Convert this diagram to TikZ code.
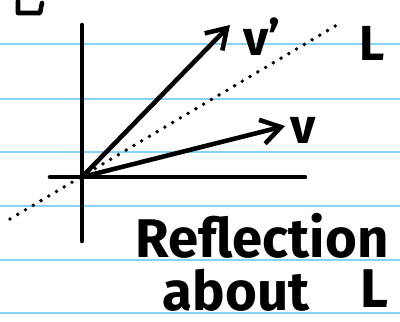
\documentclass[tikz,border=0pt]{standalone}
\usepackage{fontspec}
\setmainfont{Fira Sans}
\usetikzlibrary{arrows.meta}
\definecolor{ink}{HTML}{000000}
\definecolor{ruleblue}{HTML}{86D3F7}

\begin{document}
\begin{tikzpicture}[x=0.01cm,y=-0.01cm,
    pen/.style={ink,line width=1.3pt,line cap=round,line join=round},
    vec/.style={pen,-{Straight Barb[length=5.5pt,width=7pt,line width=1.3pt]}},
    hand/.style={ink,font=\fontsize{14}{16}\selectfont\bfseries,inner sep=0pt},
    caption/.style={hand,anchor=base,font=\fontsize{15.5}{17}\selectfont\bfseries}]
  \useasboundingbox (0,0) rectangle (400,322);
  % ruled paper
  \foreach \y in {44,99,152,206,260,313}
    \draw[ruleblue,line width=0.5pt] (0,\y) -- (400,\y);
  % leftover stroke from the line above
  \draw[pen] (18,1) -- (18,13) -- (40,13) -- (42,3);
  % axes
  \coordinate (O) at (82,177);
  \coordinate (ytop) at (82,25);
  \coordinate (ybot) at (82,241);
  \coordinate (xleft) at (50,177);
  \coordinate (xright) at (305,177);
  \draw[pen] (ytop) -- (ybot);
  \draw[pen] (xleft) -- (xright);
  % the line L
  \coordinate (Lstart) at (10,219);
  \coordinate (Lend) at (337,25);
  \draw[ink,line width=1.1pt,line cap=round,dash pattern=on 0pt off 0.09cm] (Lstart) -- (Lend);
  % vectors
  \coordinate (vtip) at (285,126);
  \coordinate (vptip) at (230,25);
  \draw[vec] (O) -- (vtip);
  \draw[vec] (O) -- (vptip);
  \node[hand] (vlabel) at (303,130) {v};
  \node[hand] (vplabel) at (262,37) {v'};
  \node[hand] (Llabel) at (372,43) {L};
  % caption
  \node[caption] (refl) at (262,258) {Reflection};
  \node[caption] (about) at (236,311) {about};
  \node[caption] (Lcap) at (374,308) {L};
\end{tikzpicture}
\end{document}
